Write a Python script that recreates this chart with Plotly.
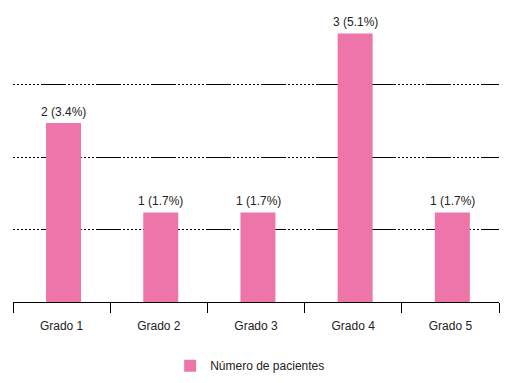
import plotly.graph_objects as go

categories = ["Grado 1", "Grado 2", "Grado 3", "Grado 4", "Grado 5"]
patients = [2, 1, 1, 3, 1]
percentages = [3.4, 1.7, 1.7, 5.1, 1.7]
series_name = "Número de pacientes"

labels = [f"{v} ({p}%)" for v, p in zip(patients, percentages)]

y_max = 3.24
grid_vals = [y_max / 4 * i for i in (1, 2, 3)]

fig = go.Figure()
fig.add_trace(go.Bar(
    x=categories,
    y=patients,
    name=series_name,
    marker=dict(color="#EE75AA", line=dict(width=0)),
    offset=-0.16,
    width=0.36,
    showlegend=True,
))

for c, v, t in zip(categories, patients, labels):
    fig.add_annotation(
        x=c, y=v, text=t, showarrow=False,
        xshift=2, yanchor="bottom", yshift=2,
        font=dict(size=12, color="#222222"),
    )

dash = ",".join(["2px"] * 14) + ",25px,2px"

fig.update_layout(
    width=510,
    height=383,
    margin=dict(l=13, r=11, t=12, b=81, autoexpand=False),
    paper_bgcolor="white",
    plot_bgcolor="white",
    font=dict(family="Arial, Liberation Sans, sans-serif", size=12, color="#222222"),
    showlegend=True,
    legend=dict(
        orientation="h",
        x=0.488, xanchor="center",
        y=-0.22, yanchor="middle",
        font=dict(size=12, color="#222222"),
    ),
    xaxis=dict(
        showline=True,
        linecolor="black",
        linewidth=1,
        ticks="outside",
        tickson="boundaries",
        ticklen=10,
        tickcolor="black",
        tickwidth=1,
        showgrid=False,
        automargin=False,
        ticklabelstandoff=13,
        tickfont=dict(size=12, color="#222222"),
    ),
    yaxis=dict(
        range=[0, y_max],
        tickvals=grid_vals,
        showticklabels=False,
        showgrid=True,
        gridcolor="black",
        gridwidth=1,
        griddash=dash,
        zeroline=False,
        showline=False,
        ticks="",
        automargin=False,
    ),
)

fig.write_html("out.html", config={"displayModeBar": False},
               post_script="document.body.style.margin='0';")
